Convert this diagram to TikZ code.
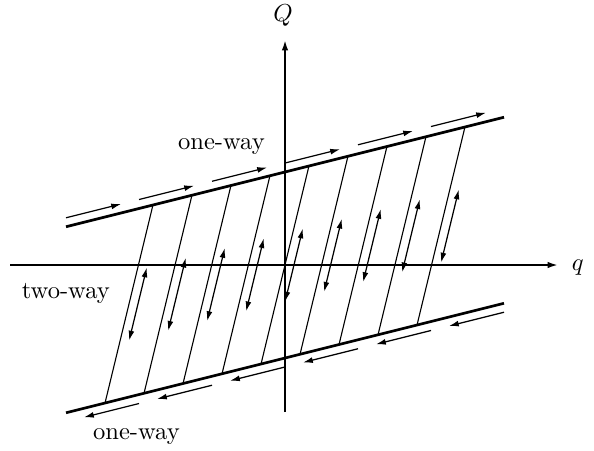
\documentclass[tikz,border=0pt]{standalone}
\usepackage{tikz}
\usetikzlibrary{arrows.meta, calc}

\begin{document}
\begin{tikzpicture}[
  x=0.558cm, y=0.558cm,
  axis/.style={-{Latex[length=4.2pt,width=2.6pt]}, line width=0.75pt},
  bound/.style={line width=1.1pt},
  branch/.style={line width=0.45pt},
  flow/.style={-{Latex[length=4pt,width=2.4pt]}, line width=0.5pt},
  twoway/.style={{Latex[length=4pt,width=2.4pt]}-{Latex[length=4pt,width=2.4pt]}, line width=0.5pt},
  lbl/.style={inner sep=1pt}
]
\useasboundingbox (-7.308,-4.744) rectangle (7.923,6.795);

% ---- Axes ----
\coordinate (qmin) at (-7.05,0);
\coordinate (qmax) at (7.0,0);
\coordinate (Qmin) at (0,-3.77);
\coordinate (Qmax) at (0,5.77);
\draw[axis] (qmin) -- (qmax);
\draw[axis] (Qmin) -- (Qmax);
\node[lbl] (qlab) at (7.51,-0.06) {$q$};
\node[lbl] (Qlab) at (-0.05,6.41) {$Q$};

% ---- One-way boundaries ----
\coordinate (UL) at (-5.615,0.981);
\coordinate (UR) at (5.615,3.789);
\coordinate (LL) at (-5.615,-3.789);
\coordinate (LR) at (5.615,-0.981);
\draw[bound] (UL) -- (UR);
\draw[bound] (LL) -- (LR);

\foreach \k in {0,...,5} {
  \draw[flow] ($(UL)!{\k/6}!(UR)+(0,0.23)$) -- ($(UL)!{\k/6+0.1256}!(UR)+(0,0.23)$);
  \draw[flow] ($(LR)!{\k/6}!(LL)+(0,-0.23)$) -- ($(LR)!{\k/6+0.1256}!(LL)+(0,-0.23)$);
}

% ---- Two-way branches ----
\foreach \k in {0,...,8} {
  \coordinate (l\k) at ({-4.615+\k},{-2.385+0.25*(-4.615+\k)});
  \coordinate (u\k) at ({-3.386+\k},{2.385+0.25*(-3.386+\k)});
  \draw[branch] (l\k) -- (u\k);
  \draw[twoway] ($(l\k)!0.3156!(u\k)+(0.23,0)$) -- ($(l\k)!0.6844!(u\k)+(0.23,0)$);
}

% ---- Labels ----
\node[lbl] (oneup) at (-1.63,3.03) {one-way};
\node[lbl] (onedown) at (-3.81,-4.41) {one-way};
\node[lbl] (two) at (-5.62,-0.72) {two-way};

\end{tikzpicture}
\end{document}
